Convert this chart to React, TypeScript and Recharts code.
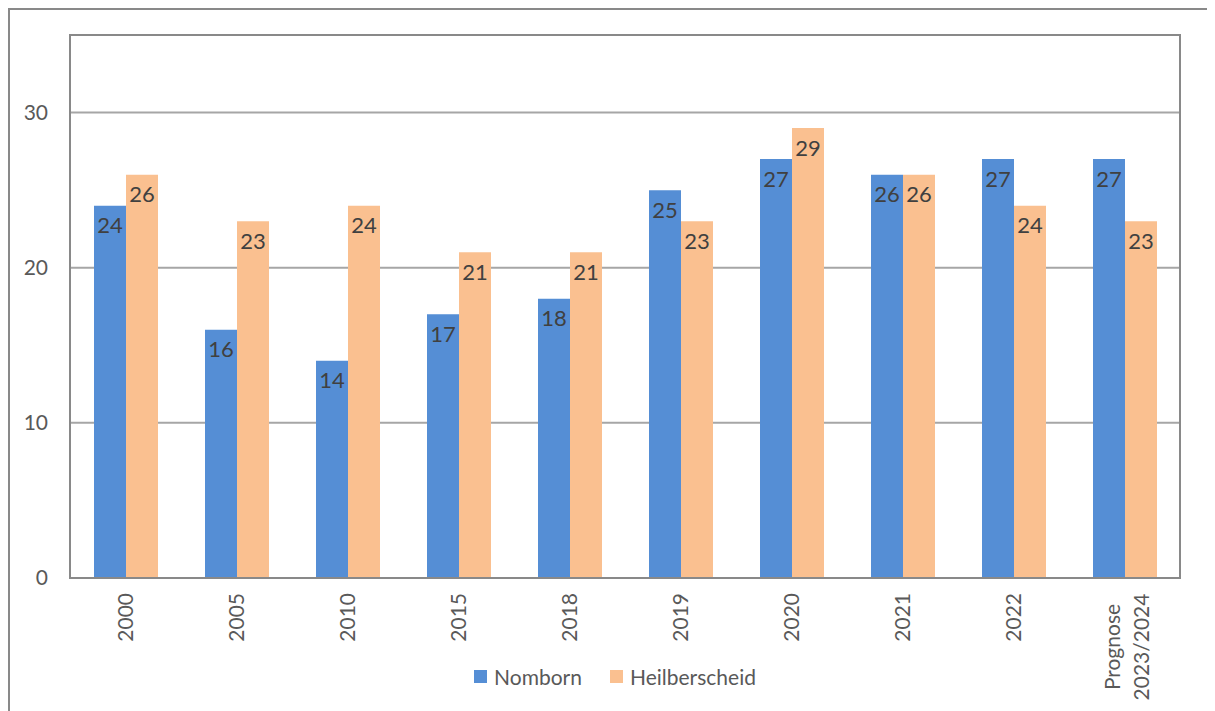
import { BarChart, Bar, XAxis, YAxis, CartesianGrid, Legend, LabelList, ReferenceArea } from "recharts";

const years = ["2000", "2005", "2010", "2015", "2018", "2019", "2020", "2021", "2022", "Prognose\n2023/2024"];
const nomborn = [24, 16, 14, 17, 18, 25, 27, 26, 27, 27];
const heilberscheid = [26, 23, 24, 21, 21, 23, 29, 26, 24, 23];
const yTicks = [0, 10, 20, 30];

const series = [
  { key: "nomborn", name: "Nomborn", color: "#558ed5" },
  { key: "heilberscheid", name: "Heilberscheid", color: "#fac090" },
];

const data = years.map((year, i) => ({ year, nomborn: nomborn[i], heilberscheid: heilberscheid[i] }));

const FONT = "Lato, 'Open Sans', sans-serif";

// rotated category labels; two-line labels are centred on each other like in the source
function YearTick({ x, y, payload }: any) {
  const lines = String(payload.value).split("\n");
  if (lines.length === 1) {
    return (
      <g transform={`translate(${x},${y + 7})`}>
        <text transform="rotate(-90)" textAnchor="end" dy="0.36em" fill="#595959" fontSize={21} fontFamily={FONT}>
          {lines[0]}
        </text>
      </g>
    );
  }
  return (
    <g transform={`translate(${x + 2},${y + 7})`}>
      {lines.map((line, i) => (
        <text
          key={i}
          transform="rotate(-90)"
          x={-54}
          y={(i - (lines.length - 1) / 2) * 29}
          textAnchor="middle"
          dy="0.36em"
          fill="#595959"
          fontSize={21}
          fontFamily={FONT}
        >
          {line}
        </text>
      ))}
    </g>
  );
}

function LegendBox() {
  return (
    <div style={{ display: "flex", justifyContent: "center", alignItems: "center", paddingLeft: 40, fontFamily: FONT, fontSize: 21, color: "#595959" }}>
      {series.map((s) => (
        <span key={s.key} style={{ display: "flex", alignItems: "center", margin: "0 14px" }}>
          <span style={{ width: 13, height: 13, background: s.color, display: "inline-block", marginRight: 7 }} />
          {s.name}
        </span>
      ))}
    </div>
  );
}

export default function App() {
  return (
    <div
      style={{
        width: 1206,
        height: 703,
        borderTop: "2px solid #898989",
        borderLeft: "2px solid #898989",
        boxSizing: "border-box",
        background: "#fff",
        overflow: "hidden",
      }}
    >
      <BarChart
        width={1195}
        height={693}
        data={data}
        margin={{ top: 25, right: 25, left: 0, bottom: 9 }}
        barGap={0}
        barSize={32}
      >
        <CartesianGrid vertical={false} stroke="#a6a6a6" strokeWidth={2} />
        <XAxis
          dataKey="year"
          interval={0}
          height={86}
          tickLine={false}
          axisLine={{ stroke: "#898989", strokeWidth: 2 }}
          tick={<YearTick />}
        />
        <YAxis
          domain={[0, 35]}
          ticks={yTicks}
          width={60}
          tickLine={false}
          tickSize={0}
          tickMargin={22}
          axisLine={false}
          tick={{ fill: "#595959", fontSize: 21, fontFamily: FONT }}
        />
        <ReferenceArea y1={0} y2={35} fill="none" stroke="#898989" strokeWidth={2} ifOverflow="visible" />
        {series.map((s) => (
          <Bar key={s.key} dataKey={s.key} name={s.name} fill={s.color} isAnimationActive={false}>
            <LabelList
              dataKey={s.key}
              position="insideTop"
              offset={12}
              fill="#404040"
              fontSize={22}
              fontFamily={FONT}
            />
          </Bar>
        ))}
        <Legend verticalAlign="bottom" height={30} content={<LegendBox />} />
      </BarChart>
    </div>
  );
}
